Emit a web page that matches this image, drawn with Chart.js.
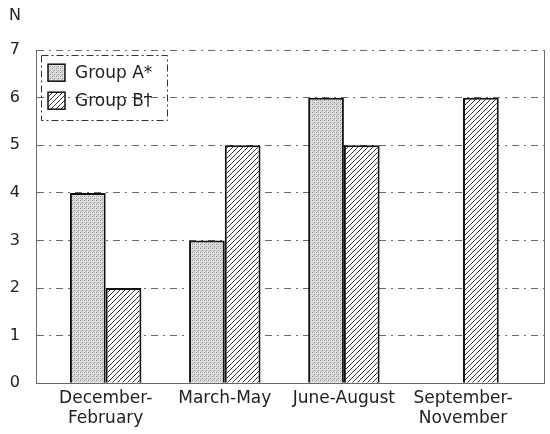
<!DOCTYPE html>
<html>
<head>
<meta charset="utf-8">
<script src="https://cdn.jsdelivr.net/npm/chart.js@4"></script>
<style>
  html, body { margin: 0; padding: 0; background: #fff; }
  #wrap { width: 550px; height: 434px; }
</style>
</head>
<body>
<div id="wrap"><canvas id="chart1"></canvas></div>
<script>
// data
var categories = [['December-', 'February'], 'March-May', 'June-August', ['September-', 'November']];
var groupA = [4, 3, 6, 0];
var groupB = [2, 5, 5, 6];
var seriesNames = ['Group A*', 'Group B\u2020'];
var yTicks = [0, 1, 2, 3, 4, 5, 6, 7];

// fill patterns
function stipple() {
    var c = document.createElement('canvas');
    c.width = 4; c.height = 4;
    var g = c.getContext('2d');
    g.fillStyle = '#dedede';
    g.fillRect(0, 0, 4, 4);
    g.fillStyle = '#909090';
    g.fillRect(0, 0, 1, 1);
    g.fillRect(2, 2, 1, 1);
    g.fillStyle = '#bcbcbc';
    g.fillRect(2, 0, 1, 1);
    g.fillRect(0, 2, 1, 1);
    g.fillRect(1, 3, 1, 1);
    return g.createPattern(c, 'repeat');
}
function hatch() {
    var c = document.createElement('canvas');
    c.width = 5; c.height = 5;
    var g = c.getContext('2d');
    g.fillStyle = '#fff';
    g.fillRect(0, 0, 5, 5);
    g.strokeStyle = '#333';
    g.lineWidth = 1;
    g.beginPath();
    g.moveTo(-1, 6); g.lineTo(6, -1);
    g.moveTo(-1, 1); g.lineTo(1, -1);
    g.moveTo(4, 6); g.lineTo(6, 4);
    g.stroke();
    return g.createPattern(c, 'repeat');
}

var dash = [7, 5, 2, 5];
var gridColor = '#6a6a6a';
var font = 'DejaVu Sans';

// legend drawn inside the plot, top left, with a dashed frame
var boxLegend = {
    id: 'boxLegend',
    afterDraw: function (chart) {
        var g = chart.ctx;
        var a = chart.chartArea;
        var x0 = a.left + 12, y0 = a.top + 14, step = 28, sq = 17;
        g.save();
        g.font = '17px "' + font + '"';
        g.textBaseline = 'middle';
        var maxW = 0;
        chart.data.datasets.forEach(function (ds, i) {
            var y = y0 + i * step;
            g.fillStyle = ds.backgroundColor;
            g.fillRect(x0, y, sq, sq);
            g.strokeStyle = '#111';
            g.lineWidth = 1.5;
            g.strokeRect(x0, y, sq, sq);
            g.fillStyle = '#222';
            g.fillText(ds.label, x0 + sq + 10, y + sq / 2 + 1);
            maxW = Math.max(maxW, g.measureText(ds.label).width);
        });
        g.strokeStyle = '#333';
        g.lineWidth = 1;
        g.setLineDash([7, 3, 2, 3]);
        var fx = Math.round(x0 - 7) + 0.5, fy = Math.round(y0 - 9) + 0.5;
        g.strokeRect(fx, fy, Math.round(sq + 10 + maxW + 22), Math.round(step + sq + 20));
        g.restore();
    }
};

function bw(ctx) {
    return (ctx.raw && ctx.raw.y === 0) ? 0 : 2;
}

var ctx = document.getElementById('chart1').getContext('2d');
var chart = new Chart(ctx, {
    type: 'bar',
    data: {
        datasets: [{
            label: seriesNames[0],
            data: groupA.map(function (v, i) { return { x: i, y: v }; }),
            backgroundColor: stipple(),
            borderColor: '#111',
            borderWidth: bw,
            borderSkipped: 'start'
        }, {
            label: seriesNames[1],
            data: groupB.map(function (v, i) { return { x: i, y: v }; }),
            backgroundColor: hatch(),
            borderColor: '#111',
            borderWidth: bw,
            borderSkipped: 'start'
        }]
    },
    options: {
        responsive: true,
        maintainAspectRatio: false,
        animation: false,
        categoryPercentage: 0.6,
        barPercentage: 1.0,
        layout: { padding: { left: 9, right: 6, top: 0, bottom: 0 } },
        scales: {
            x: {
                type: 'linear',
                min: -0.585,
                max: 3.68,
                offset: false,
                afterBuildTicks: function (scale) {
                    scale.ticks = categories.map(function (c, i) { return { value: i }; });
                },
                afterFit: function (scale) {
                    scale.paddingLeft = 0;
                    scale.paddingRight = 0;
                },
                ticks: {
                    autoSkip: false,
                    maxRotation: 0,
                    padding: 5,
                    color: '#222',
                    font: { family: font, size: 17, lineHeight: 1.2 },
                    callback: function (v) { return categories[v]; }
                },
                grid: { display: false, drawTicks: false },
                border: { display: true, color: gridColor, width: 1, dash: dash }
            },
            y: {
                min: 0,
                max: 7,
                afterBuildTicks: function (scale) {
                    scale.ticks = yTicks.map(function (v) { return { value: v }; });
                },
                afterFit: function (scale) {
                    scale.width = 27;
                },
                ticks: {
                    padding: 16,
                    color: '#222',
                    font: { family: font, size: 16 }
                },
                grid: {
                    color: gridColor,
                    lineWidth: 1,
                    drawTicks: false
                },
                border: { display: true, color: gridColor, width: 1, dash: dash }
            },
            y2: {
                position: 'right',
                min: 0,
                max: 7,
                ticks: { display: false },
                grid: { display: false, drawTicks: false },
                border: { display: true, color: gridColor, width: 1, dash: dash }
            }
        },
        plugins: {
            title: {
                display: true,
                text: 'N',
                align: 'start',
                color: '#222',
                font: { family: font, size: 16, weight: 'normal' },
                padding: { top: 6, bottom: 25 }
            },
            legend: { display: false },
            tooltip: { enabled: false }
        }
    },
    plugins: [boxLegend]
});
// dashed horizontal grid lines
chart.options.scales.y.grid.borderDash = dash;
chart.update();
</script>
</body>
</html>
